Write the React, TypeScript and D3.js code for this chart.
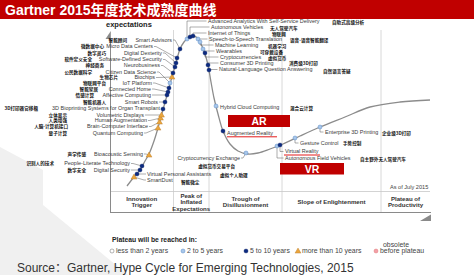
import React from "react";
import * as d3 from "d3";

// ---------- data ----------
// hype curve anchors (x: maturity/time, y: expectations)
const curveX = [17,24,30,35,39,44,48,52,56,60,64,67,70,74,79,83,87,91,95,98,101,104,108,113,120,128,138,148,160,173,190,210,235,260,290,320];
const curveY = [26,35,42,51,58,71,84,99,113,128,142,153,163,170,175,176,174.5,168,158,147,130,114,98,81,68,61,58,59,63,68,76,85,95,105,110,112];

const techNames = ["SmartDust","Virtual Personal Assistants","Digital Security","People-Literate Technology","Bioacoustic Sensing","Quantum Computing","Brain-Computer Interface","Human Augmentation","Volumetric Displays","3D Bioprinting Systems for Organ Transplant","Smart Robots","Affective Computing","Connected Home","IoT Platform","Citizen Data Science","Biochips","Neurobusiness","Software-Defined Security","Digital Dexterity","Micro Data Centers","Smart Advisors","Advanced Analytics With Self-Service Delivery","Autonomous Vehicles","Internet of Things","Speech-to-Speech Translation","Machine Learning","Wearables","Cryptocurrencies","Consumer 3D Printing","Natural-Language Question Answering","Hybrid Cloud Computing","Augmented Reality","Cryptocurrency Exchange","Autonomous Field Vehicles","Virtual Reality","Gesture Control","Enterprise 3D Printing"];
const techCn = ["智能微尘","虚拟个人助理","数字安全","识别人的技术","声学传感","量子计算","人脑-计算机接口","人类增强","立体显示","3D打印器官移植","智能机器人","情感计算","智能家居","物联网平台","公民数据科学","生物芯片","神经商务","软件定义安全","数字灵巧","微数据中心","智能顾问","自助式高级分析","无人驾驶汽车","物联网","语音-语音智能翻译","机器学习","可穿戴设备","虚拟货币","消费级3D打印","自然语言答疑","混合云计算","","虚拟货币交易平台","自主野外无人驾驶汽车","","手势控制","企业级3D打印"];
const techX = [24,27,30,32,39,48,49.5,50.5,51.5,53,55,57,58,59,60,62,63,65,66,67,70,77,80,83,88,90,93,95,98,99,106,113,136,167,170,185,210];
const techY = [35,38,42,46,57,84,90,94,97,103,110,117,120,124,129,135,139,145,149,154,163,173,175,176,173,170,163,159,147,142,106,81,59,66,67,74,85];
// 0: <2 yrs, 1: 2-5 yrs, 2: 5-10 yrs, 3: >10 yrs, 4: obsolete
const techPlateau = [3,2,2,2,3,3,3,3,3,2,2,2,2,2,1,3,2,2,2,2,2,1,2,2,1,1,1,2,2,2,1,2,1,1,2,1,1];

const phaseNames = [["Innovation","Trigger"],["Peak of","Inflated","Expectations"],["Trough of","Disillusionment"],["Slope of Enlightenment"],["Plateau of","Productivity"]];
const phaseBounds = [0,63.5,99,172,271,320];

const legendLabels = ["less than 2 years","2 to 5 years","5 to 10 years","more than 10 years","before plateau"];
const legendTypes = [0,1,2,3,4];

// ---------- layout (annotation placement) ----------
// anchor, enX, enY, cnX, cnY, leader kind
const labelLayout: [string, number, number, number, number, string][] = [
  ["s",147,180,181,182.5,"d"],
  ["s",147,174,220,175.5,"d"],
  ["e",130,170,86,170,"d"],
  ["e",130,163.5,54,163.5,"d"],
  ["e",143,154,86,154,"d"],
  ["e",143,133,67,133,"d"],
  ["e",148,126.5,68,126.5,"d"],
  ["e",147,120.5,67,120.5,"d"],
  ["e",144,115,67,115,"d"],
  ["e",160,108.5,38,108.5,"d"],
  ["e",158,102,106,102,"d"],
  ["e",151,95,94,95,"d"],
  ["e",151,89,98,89,"d"],
  ["e",152,83,106,83,"d"],
  ["e",156,72,92,72,"d"],
  ["e",155,77.5,118,77.5,"d"],
  ["e",160,65.5,104,65.5,"d"],
  ["e",162,59.5,92,59.5,"d"],
  ["e",162,53,106,53,"d"],
  ["e",153,46.5,104,46.5,"d"],
  ["e",172,40,127,40,"d"],
  ["s",208,21,332,22.5,"k"],
  ["s",211,27,270,28.5,"k"],
  ["s",208,33,272,34.5,"k"],
  ["s",209,39,290,40,"k"],
  ["s",215,45,268,46,"k"],
  ["s",216,51,260,52.5,"k"],
  ["s",220,57,268,58,"k"],
  ["s",220,63,289,63,"k"],
  ["s",219,69.5,323,71,"k"],
  ["s",220,107,290,108,"k"],
  ["s",227,133,0,0,"k"],
  ["e",240,158,235,166,"d"],
  ["s",285,158,360,159,"k"],
  ["s",285,151.5,0,0,"k"],
  ["s",300,143,343,143,"k"],
  ["s",325,132,382,133,"k"],
];

const EN = "'Liberation Sans', Arial, 'Noto Sans CJK SC', sans-serif";
const CN = "'Noto Sans CJK SC', sans-serif";
const RED = "#c00000";

function Marker({ type, cx, cy }: { type: number; cx: number; cy: number }) {
  if (type === 3) {
    const p = d3.symbol().type(d3.symbolTriangle).size(15)();
    return <path d={p || ""} transform={`translate(${cx},${cy + 0.4})`} fill="#eaa53c" stroke="#b5782a" strokeWidth={0.4} />;
  }
  if (type === 2) return <circle cx={cx} cy={cy} r={2.1} fill="#0c2a80" stroke="#081d5c" strokeWidth={0.3} />;
  if (type === 1) return <circle cx={cx} cy={cy} r={2} fill="#a8c7ea" stroke="#5a8bc6" strokeWidth={0.5} />;
  if (type === 4) return <circle cx={cx} cy={cy} r={2} fill="#f2a0a8" stroke="#d66" strokeWidth={0.4} />;
  return <circle cx={cx} cy={cy} r={2} fill="#fff" stroke="#666" strokeWidth={0.5} />;
}

export default function App() {
  const x = d3.scaleLinear().domain([0, 320]).range([110, 430]);
  const y = d3.scaleLinear().domain([0, 180]).range([212, 32]);
  const idx = d3.range(curveX.length);
  const curvePath = d3
    .line<number>()
    .x((i) => x(curveX[i]))
    .y((i) => y(curveY[i]))
    .curve(d3.curveCatmullRom.alpha(0.5))(idx) || "";

  const leaders = techNames.map((_, i) => {
    const [anchor, lx, ly, , , kind] = labelLayout[i];
    const mx = x(techX[i]);
    const my = y(techY[i]);
    let pts: [number, number][];
    if (kind === "k") {
      pts = [[mx, my], [mx, ly], [lx - 1.5, ly]];
    } else if (anchor === "e") {
      pts = [[lx + 1, ly], [lx + 3, ly], [mx, my]];
    } else {
      pts = [[mx, my], [lx - 3, ly], [lx - 1, ly]];
    }
    return d3.line()(pts) || "";
  });

  const legendX = [112, 183, 246, 298, 376];

  return (
    <svg width={474} height={275} style={{ position: "absolute", left: 0, top: 0, display: "block", background: "#fff" }} fontFamily={EN}>
      {/* decorative background */}
      <polygon points="0,147 43,170 43,205 128,275 0,275" fill="#f0f0f0" />

      {/* title bar */}
      <rect x={0} y={0} width={474} height={19} fill={RED} />
      <text x={5} y={15} fill="#fff" fontSize={14} fontWeight="bold" fontFamily={EN}>
        Gartner 2015年度技术成熟度曲线
      </text>

      {/* phase grid */}
      {phaseBounds.slice(1, 5).map((b, i) => (
        <line key={"g" + i} x1={x(b)} x2={x(b)} y1={30} y2={212.5} stroke="#d4d4d4" strokeWidth={0.9} />
      ))}
      <line x1={110} x2={430} y1={191.5} y2={191.5} stroke="#c8c8c8" strokeWidth={0.8} />
      <line x1={110} x2={431} y1={212.5} y2={212.5} stroke="#8a8a8a" strokeWidth={1} />
      <line x1={110.5} x2={110.5} y1={38} y2={212.5} stroke="#8a8a8a" strokeWidth={1} />
      <polygon points="110.8,31 105.5,39 110.8,39" fill="#8a8a8a" />
      <polygon points="420,221 431,214.5 431,221" fill="#8a8a8a" />
      <text x={106} y={26.5} fontSize={7.5} fontWeight="bold" fill="#222">expectations</text>

      {/* phase labels */}
      {phaseNames.map((lines, i) => {
        const cx = x((phaseBounds[i] + phaseBounds[i + 1]) / 2);
        const lh = 6.5;
        const y0 = 202 - ((lines.length - 1) * lh) / 2;
        return (
          <text key={"p" + i} textAnchor="middle" fontSize={6.1} fontWeight="bold" fill="#333">
            {lines.map((t, j) => (
              <tspan key={j} x={cx} y={y0 + j * lh} dy="0.35em">{t}</tspan>
            ))}
          </text>
        );
      })}

      {/* red highlight boxes */}
      <rect x={228} y={115} width={62} height={12} fill={RED} />
      <text x={259} y={121} dy="0.36em" textAnchor="middle" fill="#fff" fontWeight="bold" fontSize={10.5}>AR</text>
      <rect x={280} y={163} width={64} height={11.5} fill={RED} />
      <text x={312} y={169} dy="0.36em" textAnchor="middle" fill="#fff" fontWeight="bold" fontSize={10.5}>VR</text>

      {/* curve */}
      <path d={curvePath} fill="none" stroke="#8c8c8c" strokeWidth={1.3} />

      {/* leaders */}
      {leaders.map((d, i) => (
        <path key={"l" + i} d={d} fill="none" stroke="#5a5a5a" strokeWidth={0.5} />
      ))}

      {/* labels */}
      {techNames.map((name, i) => {
        const [anchor, lx, ly, cx, cy] = labelLayout[i];
        const ta = anchor === "e" ? "end" : "start";
        return (
          <g key={"t" + i}>
            <text x={lx} y={ly} dy="0.35em" textAnchor={ta} fontSize={5.45} fill="#3a3a3a">{name}</text>
            {techCn[i] ? (
              <text x={cx} y={cy} dy="0.38em" textAnchor={ta} fontSize={4.6} fontWeight="bold" fill="#111" fontFamily={CN}>{techCn[i]}</text>
            ) : null}
          </g>
        );
      })}

      {/* underlines for AR / VR */}
      <line x1={227} x2={277} y1={136.8} y2={136.8} stroke="#e00000" strokeWidth={0.9} />
      <line x1={284} x2={320} y1={155} y2={155} stroke="#e00000" strokeWidth={0.9} />

      {/* markers */}
      {techNames.map((_, i) => (
        <Marker key={"m" + i} type={techPlateau[i]} cx={x(techX[i])} cy={y(techY[i])} />
      ))}

      <text x={390} y={187.5} dy="0.35em" fontSize={5.6} fill="#444">As of July 2015</text>

      {/* legend */}
      <text x={112} y={240} dy="0.35em" fontSize={6.8} fontWeight="bold" fill="#222">Plateau will be reached in:</text>
      {legendLabels.map((t, i) => (
        <g key={"lg" + i}>
          <Marker type={legendTypes[i]} cx={legendX[i]} cy={251} />
          <text x={legendX[i] + 4} y={251} dy="0.35em" fontSize={6.9} fill="#444">{t}</text>
        </g>
      ))}
      <text x={383} y={244.5} dy="0.35em" fontSize={6.9} fill="#444">obsolete</text>

      {/* source */}
      <text x={17} y={272} fontSize={12} fill="#333">Source：Gartner, Hype Cycle for Emerging Technologies, 2015</text>
    </svg>
  );
}
